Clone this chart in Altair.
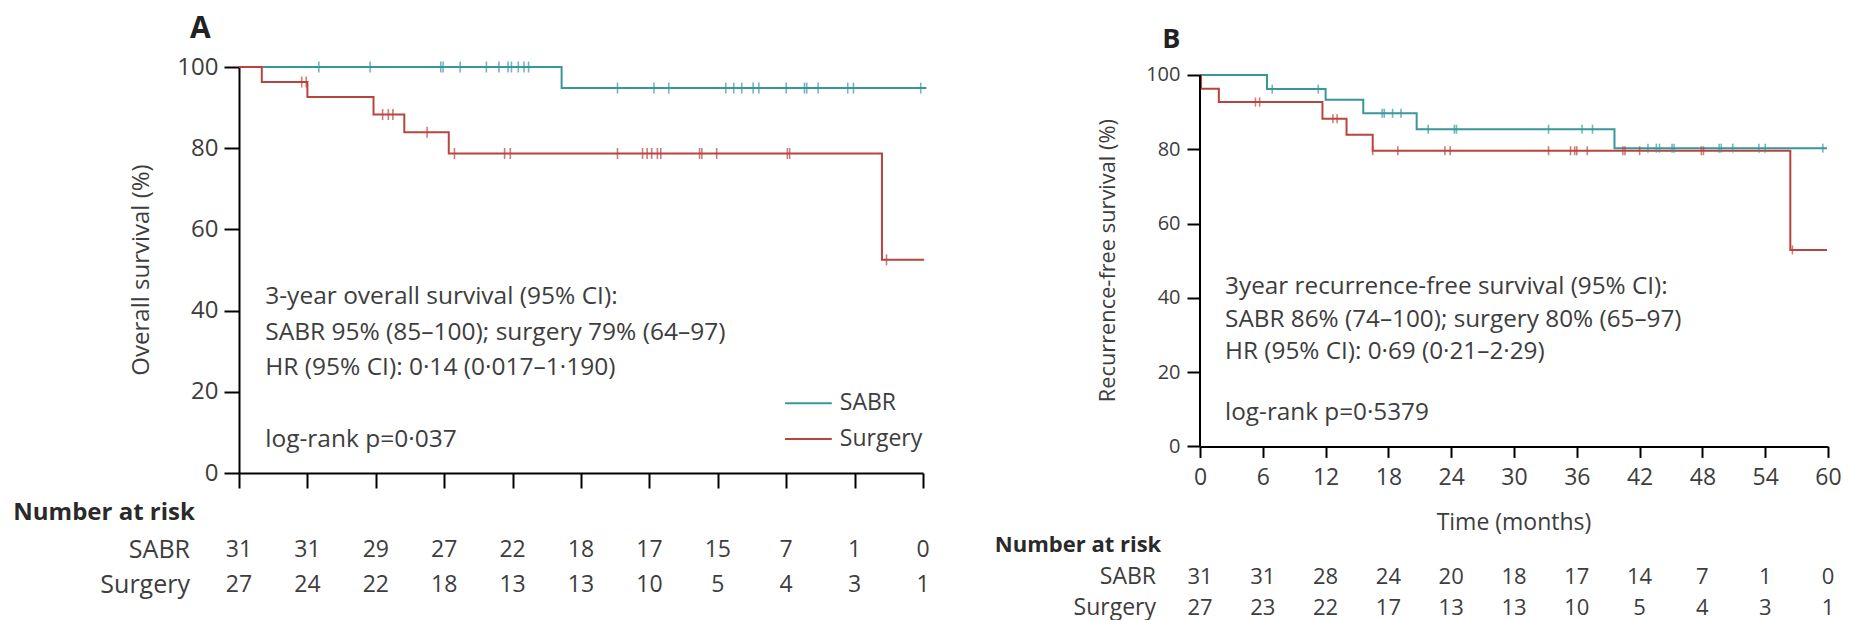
import altair as alt
import pandas as pd

FONT = "Open Sans"
TEAL = "#36979d"
RED = "#b9443e"
INK = "#3d3d3d"
GROUPS = ["SABR", "Surgery"]
MONTHS = [0, 6, 12, 18, 24, 30, 36, 42, 48, 54, 60]
YTICKS = [0, 20, 40, 60, 80, 100]

# ---------------- Panel A : overall survival ----------------
A_SABR_T = [0, 28.3]
A_SABR_S = [100, 94.8]
A_SABR_END = 60.3
A_SURG_T = [0, 2.0, 6.0, 11.8, 14.5, 18.4, 56.4]
A_SURG_S = [100, 96.3, 92.6, 88.3, 83.9, 78.7, 52.5]
A_SURG_END = 60.1
A_SABR_CENS = [7.0, 11.5, 17.7, 17.9, 19.4, 21.7, 22.8, 23.6, 23.9, 24.5, 25.0, 25.4,
               33.2, 36.4, 37.7, 42.7, 43.4, 44.1, 45.1, 45.6, 48.0, 49.6, 49.8, 50.8,
               53.4, 53.9, 59.8]
A_SURG_CENS = [5.5, 5.9, 12.6, 13.1, 13.5, 16.5, 18.9, 23.3, 23.8, 33.2, 35.4, 35.8,
               36.2, 36.7, 37.0, 40.4, 40.6, 41.9, 48.1, 48.3, 56.8]
A_RISK_SABR = [31, 31, 29, 27, 22, 18, 17, 15, 7, 1, 0]
A_RISK_SURG = [27, 24, 22, 18, 13, 13, 10, 5, 4, 3, 1]
A_NOTES = ["3-year overall survival (95% CI):",
           "SABR 95% (85–100); surgery 79% (64–97)",
           "HR (95% CI): 0·14 (0·017–1·190)",
           "log-rank p=0·037"]
A_YTITLE = "Overall survival (%)"

# ---------------- Panel B : recurrence-free survival ----------------
B_SABR_T = [0, 6.4, 12.0, 15.6, 20.7, 39.6]
B_SABR_S = [100, 96.2, 93.3, 89.7, 85.4, 80.3]
B_SABR_END = 59.9
B_SURG_T = [0, 0.1, 1.8, 11.7, 14.0, 16.5, 56.4]
B_SURG_S = [100, 96.3, 92.7, 88.2, 83.9, 79.6, 52.9]
B_SURG_END = 59.9
B_SABR_CENS = [6.9, 11.3, 17.4, 17.6, 18.4, 19.2, 21.8, 24.3, 24.5, 33.3, 36.5, 37.5,
               42.8, 43.6, 43.9, 45.1, 45.3, 49.6, 49.8, 50.9, 53.4, 54.0, 59.5]
B_SURG_CENS = [5.3, 5.7, 12.7, 13.1, 16.5, 18.9, 23.4, 23.9, 33.3, 35.4, 35.8, 36.0,
               37.0, 40.4, 40.6, 42.0, 47.9, 48.1, 56.6]
B_RISK_SABR = [31, 31, 28, 24, 20, 18, 17, 14, 7, 1, 0]
B_RISK_SURG = [27, 23, 22, 17, 13, 13, 10, 5, 4, 3, 1]
B_NOTES = ["3year recurrence-free survival (95% CI):",
           "SABR 86% (74–100); surgery 80% (65–97)",
           "HR (95% CI): 0·69 (0·21–2·29)",
           "log-rank p=0·5379"]
B_YTITLE = "Recurrence-free survival (%)"
B_XTITLE = "Time (months)"

ONE = pd.DataFrame({"k": [0]})
COLOR = alt.Color("g:N", scale=alt.Scale(domain=GROUPS, range=[TEAL, RED]), legend=None)


def steps(times, surv, end, group):
    rows = [{"t": t, "s": s, "g": group} for t, s in zip(times, surv)]
    rows.append({"t": end, "s": surv[-1], "g": group})
    return rows


def censors(times, surv, cens, group):
    rows = []
    for c in cens:
        level = surv[0]
        for t, s in zip(times, surv):
            if t <= c:
                level = s
        rows.append({"t": c, "s": level, "g": group})
    return rows


def txt(x, y, text, size, align="left", baseline="middle", weight="normal", angle=0, color=INK):
    return alt.Chart(ONE).mark_text(
        align=align, baseline=baseline, fontSize=size, fontWeight=weight,
        angle=angle, font=FONT, color=color
    ).encode(x=alt.datum(x), y=alt.datum(y), text=alt.value(text))


def panel(p):
    xs = alt.Scale(domain=[0, 60], nice=False, zero=False)
    ys = alt.Scale(domain=[0, p["ytop"]], nice=False, zero=False)
    xaxis = alt.Axis(values=MONTHS, title=None, grid=False, labels=p["xlabels"],
                     tickSize=p["xtick"], tickWidth=2, tickColor="black",
                     domain=True, domainColor="black", domainWidth=2,
                     labelFont=FONT, labelFontSize=p["xlabsize"], labelColor=INK,
                     labelPadding=p["xlabpad"], labelFlush=False)
    yaxis = alt.Axis(values=YTICKS, title=None, grid=False,
                     tickSize=p["ytick"], tickWidth=2, tickColor="black",
                     domain=p["ydomain"], domainColor="black", domainWidth=2,
                     labelFont=FONT, labelFontSize=p["ylabsize"], labelColor=INK,
                     labelPadding=p["ylabpad"])

    def X(f):
        return alt.X(f, type="quantitative", scale=xs, axis=xaxis)

    def Y(f):
        return alt.Y(f, type="quantitative", scale=ys, axis=yaxis)

    step_df = pd.DataFrame(
        steps(p["sabr_t"], p["sabr_s"], p["sabr_end"], "SABR")
        + steps(p["surg_t"], p["surg_s"], p["surg_end"], "Surgery"))
    cens_df = pd.DataFrame(
        censors(p["sabr_t"], p["sabr_s"], p["sabr_c"], "SABR")
        + censors(p["surg_t"], p["surg_s"], p["surg_c"], "Surgery"))

    lines = alt.Chart(step_df).mark_line(interpolate="step-after", strokeWidth=2).encode(
        x=X("t"), y=Y("s"), color=COLOR)
    ticks = alt.Chart(cens_df).mark_tick(orient="vertical", size=p["csize"], thickness=1.6).encode(
        x=X("t"), y=Y("s"), color=COLOR)

    layers = [lines, ticks]

    # number at risk
    for counts, rowy in ((p["risk_sabr"], p["row_y"][0]), (p["risk_surg"], p["row_y"][1])):
        rdf = pd.DataFrame({"t": MONTHS, "n": [str(v) for v in counts]})
        layers.append(alt.Chart(rdf).mark_text(
            align="center", baseline="middle", fontSize=p["risksize"], font=FONT, color=INK
        ).encode(x=X("t"), y=alt.datum(rowy), text="n:N"))
    layers.append(txt(p["nar_x"], p["nar_y"], "Number at risk", p["narsize"], weight="bold",
                      color="#2a2a2a"))
    layers.append(txt(p["rowlab_x"], p["row_y"][0], GROUPS[0], p["rowlabsize"], align="right"))
    layers.append(txt(p["rowlab_x"], p["row_y"][1], GROUPS[1], p["rowlabsize"], align="right"))

    # panel letter and y title
    layers.append(txt(p["letter_x"], p["letter_y"], p["letter"], p["lettersize"],
                      baseline="alphabetic", weight="bold", color="#222222"))
    layers.append(txt(p["ytitle_x"], 50, p["ytitle"], p["ytitlesize"], align="center", angle=270))

    # annotation block
    for line, yy in zip(p["notes"], p["notes_y"]):
        layers.append(txt(p["notes_x"], yy, line, p["notesize"]))

    return layers


PA = dict(
    ytop=100, xlabels=False, xtick=15, xlabsize=22, xlabpad=6, ytick=15, ydomain=True,
    ylabsize=24, ylabpad=6,
    sabr_t=A_SABR_T, sabr_s=A_SABR_S, sabr_end=A_SABR_END, sabr_c=A_SABR_CENS,
    surg_t=A_SURG_T, surg_s=A_SURG_S, surg_end=A_SURG_END, surg_c=A_SURG_CENS,
    csize=11, risk_sabr=A_RISK_SABR, risk_surg=A_RISK_SURG, row_y=[-19.0, -27.6],
    risksize=23, narsize=24, rowlabsize=25, nar_x=-19.8, nar_y=-9.85, rowlab_x=-4.3,
    letter="A", letter_x=-4.3, letter_y=107.1, lettersize=30,
    ytitle=A_YTITLE, ytitle_x=-8.5, ytitlesize=24,
    notes=A_NOTES, notes_x=2.3, notes_y=[43.3, 34.5, 25.9, 8.1], notesize=24.5,
)

PB = dict(
    ytop=102.15, xlabels=True, xtick=11, xlabsize=23, xlabpad=9, ytick=13, ydomain=False,
    ylabsize=20, ylabpad=7,
    sabr_t=B_SABR_T, sabr_s=B_SABR_S, sabr_end=B_SABR_END, sabr_c=B_SABR_CENS,
    surg_t=B_SURG_T, surg_s=B_SURG_S, surg_end=B_SURG_END, surg_c=B_SURG_CENS,
    csize=9, risk_sabr=B_RISK_SABR, risk_surg=B_RISK_SURG, row_y=[-35.2, -43.5],
    risksize=22, narsize=22, rowlabsize=23, nar_x=-19.6, nar_y=-26.5, rowlab_x=-4.2,
    letter="B", letter_x=-3.6, letter_y=107.3, lettersize=27,
    ytitle=B_YTITLE, ytitle_x=-8.8, ytitlesize=21.8,
    notes=B_NOTES, notes_x=2.4, notes_y=[42.9, 34.0, 25.4, 9.0], notesize=24.3,
)

layers_a = panel(PA)
# legend of panel A
layers_a.append(alt.Chart(ONE).mark_rule(strokeWidth=2, color=TEAL).encode(
    x=alt.datum(47.9), x2=alt.datum(52.0), y=alt.datum(17.2)))
layers_a.append(alt.Chart(ONE).mark_rule(strokeWidth=2, color=RED).encode(
    x=alt.datum(47.9), x2=alt.datum(52.0), y=alt.datum(8.4)))
layers_a.append(txt(52.7, 17.2, GROUPS[0], 23))
layers_a.append(txt(52.7, 8.4, GROUPS[1], 23))

layers_b = panel(PB)
# y axis line of panel B (0-100 only)
layers_b.append(alt.Chart(ONE).mark_rule(strokeWidth=2, color="black").encode(
    x=alt.datum(0), y=alt.datum(0), y2=alt.datum(100)))
layers_b.append(txt(30, -20.6, B_XTITLE, 23, align="center"))

panel_a = alt.layer(*layers_a).properties(width=684, height=406)
panel_b = alt.layer(*layers_b).properties(width=628, height=379.4)

chart = alt.hconcat(panel_a, panel_b, spacing=277, bounds="flush").properties(
    padding={"left": 13, "top": 14, "right": 10, "bottom": 6},
    background="white",
).configure(font=FONT).configure_view(stroke=None)

chart.save("out.html", embed_options={"renderer": "svg", "actions": False})
